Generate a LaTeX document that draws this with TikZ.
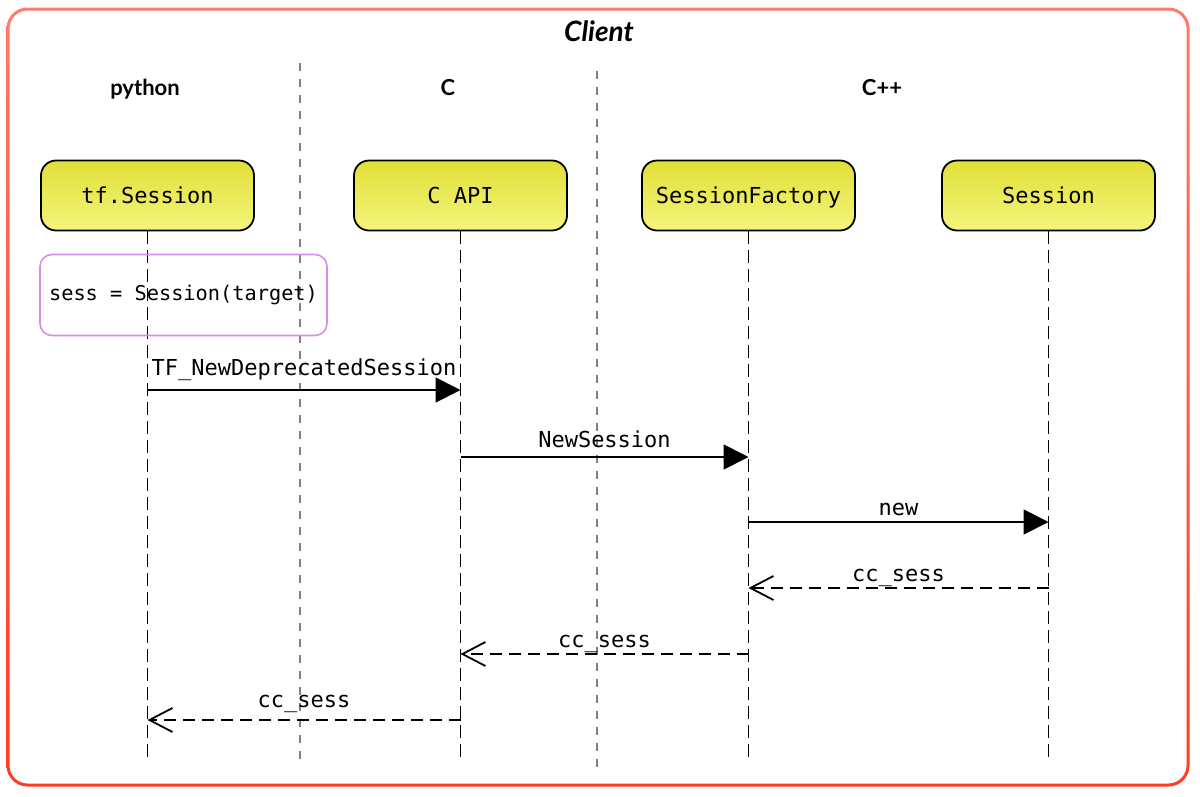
\documentclass[tikz,border=0pt]{standalone}
\usepackage{fontspec}
\usepackage{tikz}
\usetikzlibrary{calc,arrows.meta}
\newfontfamily\monofont{DejaVu Sans Mono}
\newfontfamily\headfont{Lato}
\definecolor{frametop}{HTML}{FF7B6B}
\definecolor{framebot}{HTML}{FF3C22}
\definecolor{boxtop}{HTML}{E1DF38}
\definecolor{boxbot}{HTML}{F4F57C}
\definecolor{notecol}{HTML}{D88EE6}
\newcommand\msg[7]{%
  \path (#1 |- 0,#4) coordinate (#3a) (#2 |- 0,#4) coordinate (#3b);
  \draw[#5] (#3a) -- (#3b) node[midway, anchor=base, yshift=#7, font=\monofont\fontsize{22}{26}\selectfont] {#6};
}

\begin{document}
\begin{tikzpicture}
[x=1pt, y=-1pt,
 actor/.style={draw, line width=1.8pt, rounded corners=15pt, top color=boxtop, bottom color=boxbot,
   minimum width=213pt, minimum height=70pt, text height=15.5pt, text depth=0pt,
   font=\monofont\fontsize{22}{26}\selectfont},
 notebox/.style={draw=notecol, line width=1.6pt, rounded corners=12pt,
   minimum width=287pt, minimum height=81pt, font=\monofont\fontsize{20.3}{24}\selectfont},
 lane/.style={font=\headfont\bfseries\fontsize{22}{26}\selectfont, anchor=base},
 lifeline/.style={line width=1.8pt, dash pattern=on 13pt off 6pt},
 divider/.style={gray, line width=1.5pt, dash pattern=on 8pt off 8pt},
 call/.style={line width=1.8pt, -{Triangle[length=25pt, width=25pt]}},
 reply/.style={line width=1.8pt, dash pattern=on 12pt off 7pt, -{Straight Barb[length=23pt, width=24pt]}}]
\useasboundingbox (0,0) rectangle (1200,796);
\shade[even odd rule, top color=frametop, bottom color=framebot]
  [rounded corners=21pt] (6.5,7.5) rectangle (1189.5,786.5)
  [rounded corners=18pt] (9.5,10.5) rectangle (1186.5,783.5);
\node[font=\headfont\bfseries\itshape\fontsize{28}{32}\selectfont, anchor=base] (title) at (599,41) {Client};
\node[lane] (lpy) at (145,95) {python};
\node[lane] (lc)  at (448,95) {C};
\node[lane] (lcc) at (882,95) {C++};
\draw[divider] (300,63) -- (300,762);
\draw[divider] (597,71) -- (597,768);
\node[actor] (tfs)  at (147.5,195.5)  {tf.Session};
\node[actor] (capi) at (460.5,195.5)  {C API};
\node[actor] (sfac) at (748.5,195.5)  {SessionFactory};
\node[actor] (sess) at (1048.5,195.5) {Session};
\foreach \obj in {tfs, capi, sfac, sess}
  { \path (\obj |- 0,762) coordinate (\obj end);
    \draw[lifeline] (\obj) -- (\obj end);
  }
\node[notebox] (note) at (183.5,295) {sess = Session(target)};
\msg{tfs} {capi}{m1}{390}{call} {TF\_NewDeprecatedSession}{15pt}
\msg{capi}{sfac}{m2}{457}{call} {NewSession}{10pt}
\msg{sfac}{sess}{m3}{522}{call} {new}{7pt}
\msg{sess}{sfac}{m4}{588}{reply}{cc\_sess}{7pt}
\msg{sfac}{capi}{m5}{654}{reply}{cc\_sess}{7pt}
\msg{capi}{tfs} {m6}{720}{reply}{cc\_sess}{13pt}
\end{tikzpicture}
\end{document}
